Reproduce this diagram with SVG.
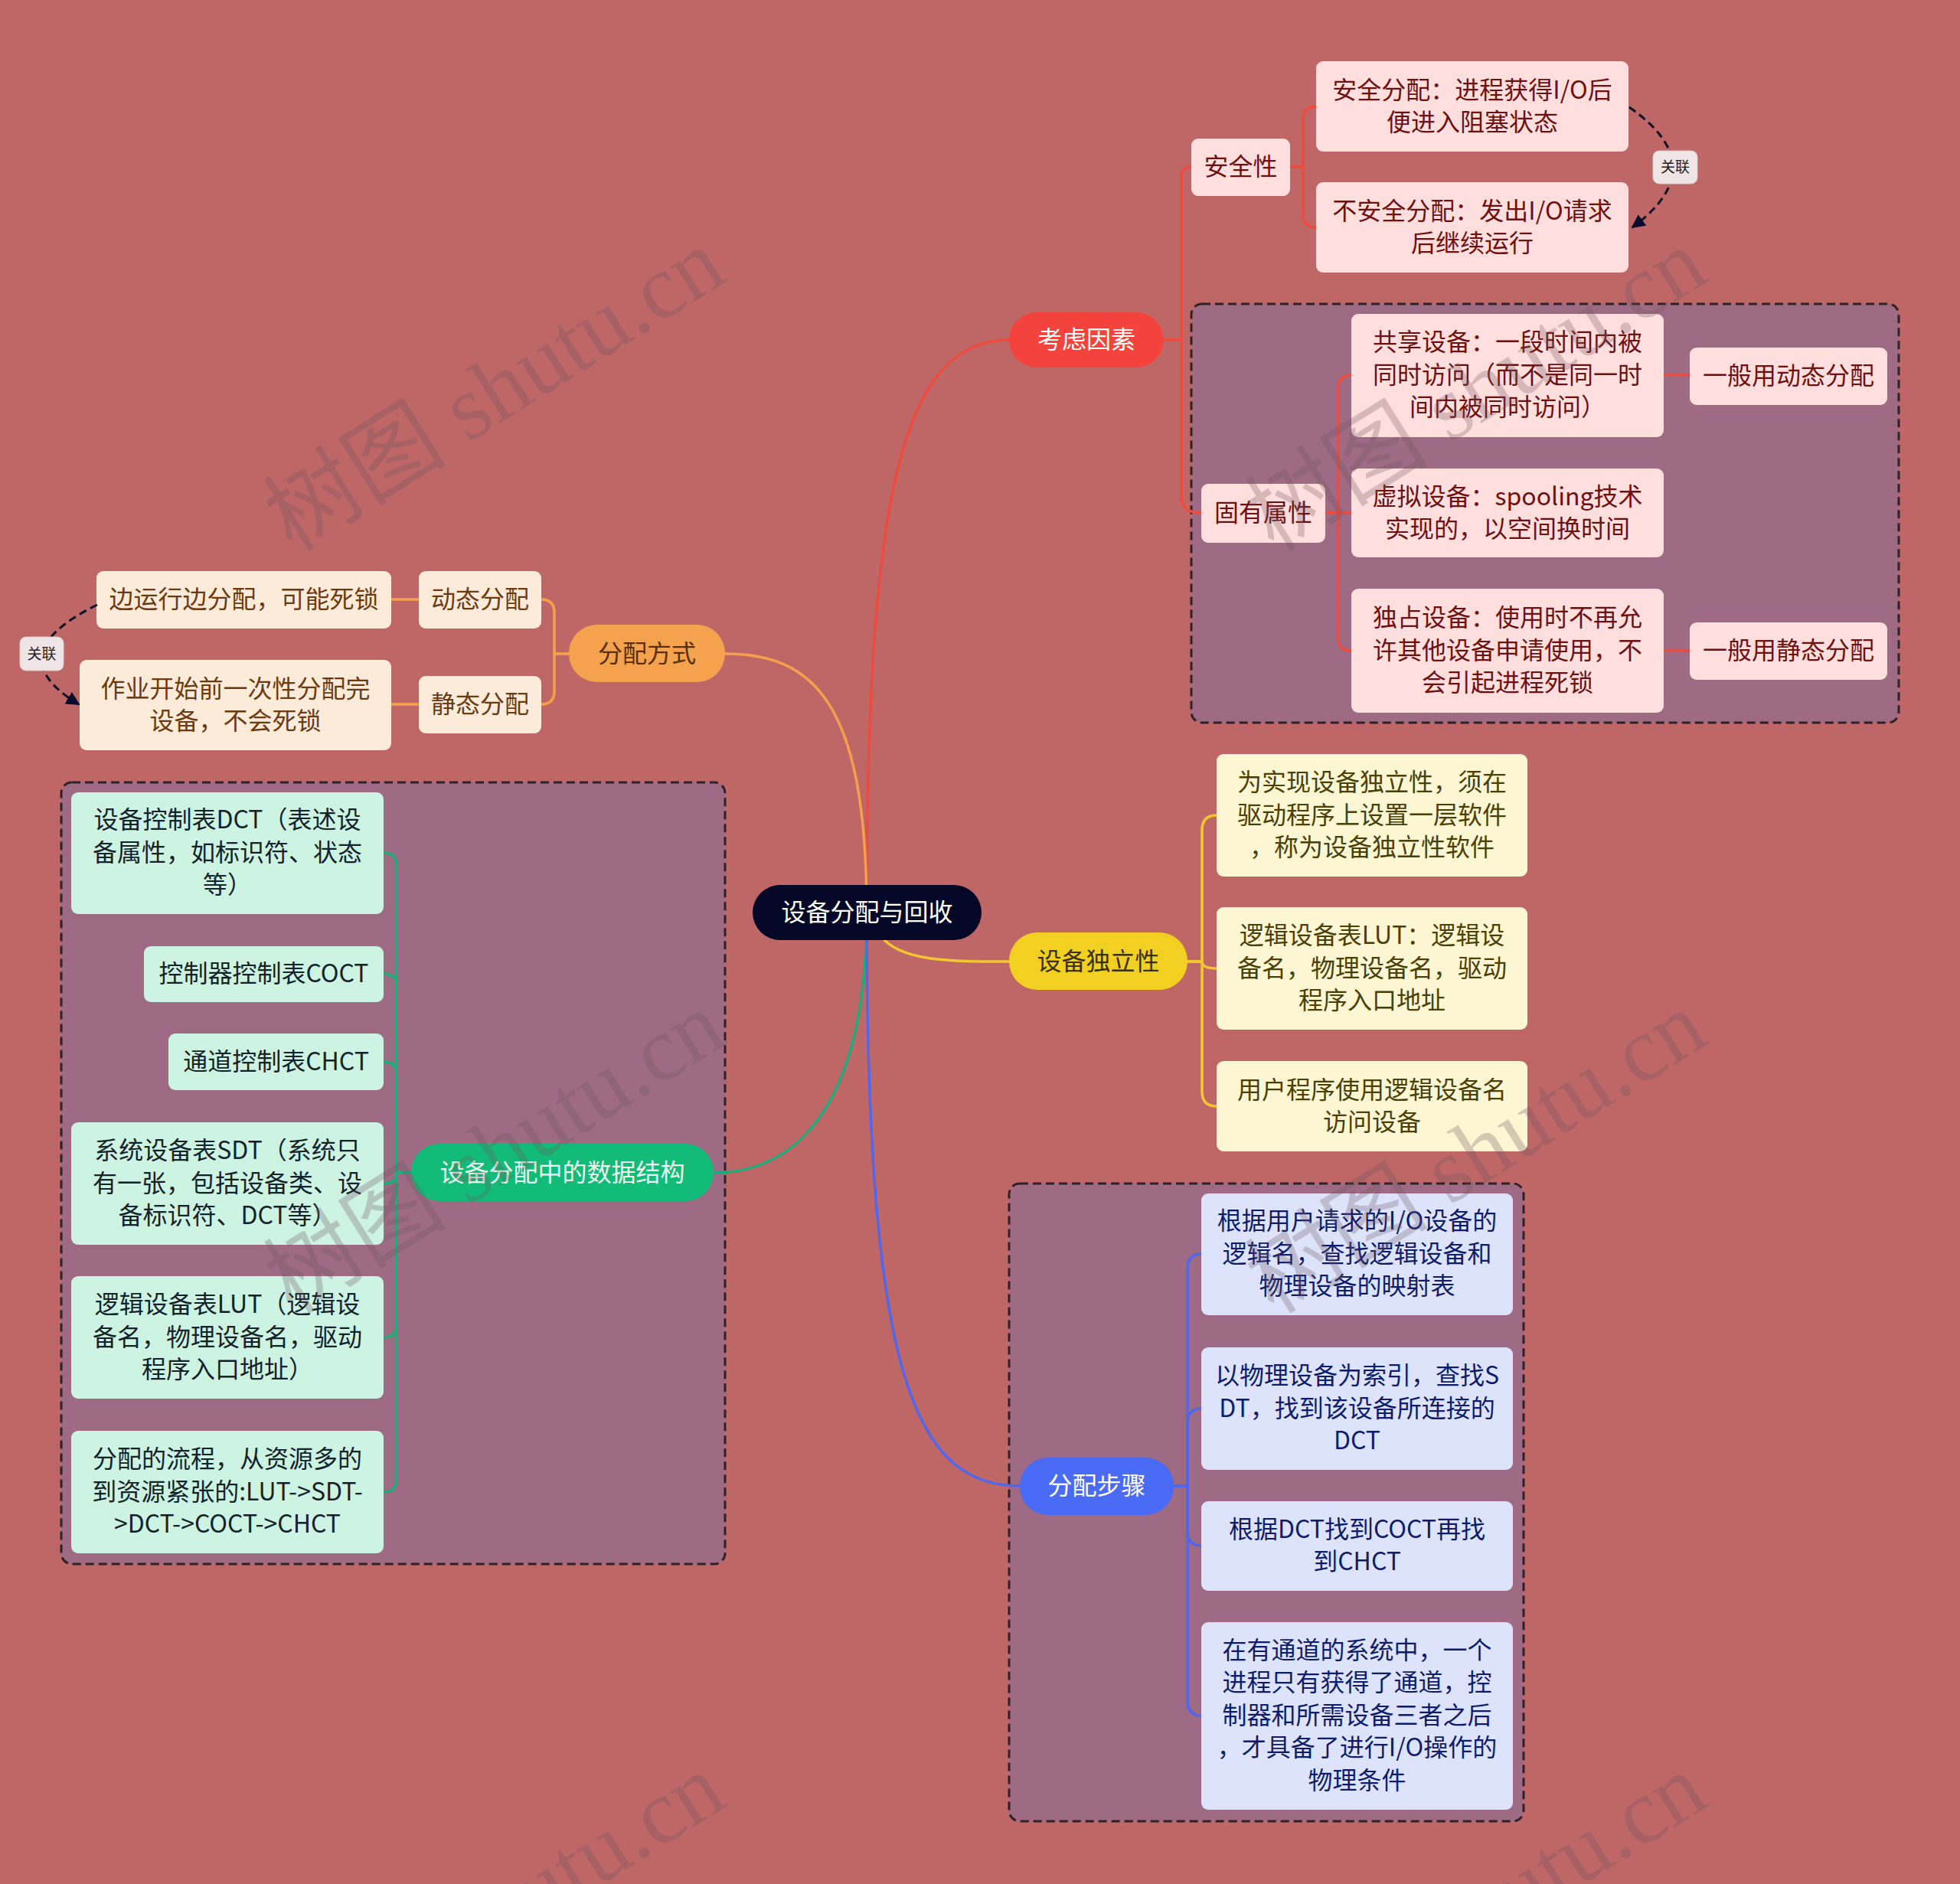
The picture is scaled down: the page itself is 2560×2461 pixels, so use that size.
<svg xmlns="http://www.w3.org/2000/svg" width="2560" height="2461" viewBox="0 0 2560 2461">
<defs>
<style>
.t{font-family:"Noto Sans CJK SC","Liberation Sans",sans-serif;font-size:32px;text-anchor:middle}
.grp{fill:#9E6A84;stroke:#2e2226;stroke-width:3;stroke-dasharray:11 6}
.cn{fill:none;stroke-width:3.5;stroke-linecap:round}
.red{stroke:#EE4A3E}.org{stroke:#F5A04C}.yel{stroke:#F2C730}.grn{stroke:#1BAE78}.blu{stroke:#4F66EE}
.pk{fill:#FFDEDE}.pkt{fill:#6E1010}
.cr{fill:#FDEBD9}.crt{fill:#6B3A10}
.ly{fill:#FDF6D3}.lyt{fill:#4A3F05}
.mn{fill:#CDF3E3}.mnt{fill:#14222A}
.lv{fill:#DCE3FB}.lvt{fill:#0F1C6B}
.rel{fill:none;stroke:#111128;stroke-width:3;stroke-dasharray:10 6}
.lbl{fill:#EFE4E6;stroke:#d9c9cc;stroke-width:1}
.lt{font-family:"Noto Sans CJK SC","Liberation Sans",sans-serif;font-size:19px;text-anchor:middle;fill:#222}
.wm{font-family:"Liberation Serif","Noto Sans CJK SC",serif;font-size:120px;fill:#6f5560;opacity:0.28}
</style>
<marker id="arr" viewBox="0 0 10 10" refX="9" refY="5" markerWidth="6" markerHeight="6" orient="auto"><path d="M0,0 L10,5 L0,10 z" fill="#0b0b2e"/></marker>
</defs>
<rect x="0" y="0" width="2560" height="2461" fill="#BE6766"/>

<g id="groups">
<rect class="grp" x="1556" y="397" width="924" height="547" rx="14"/>
<rect class="grp" x="80" y="1022" width="867" height="1021" rx="14"/>
<rect class="grp" x="1318" y="1546" width="672" height="833" rx="14"/>
</g>

<g id="connectors">
<path class="cn red" d="M1132,1192 C1132,653 1176,444 1318,444"/>
<path class="cn org" d="M1132,1192 C1132,915 1061,854 947,854"/>
<path class="cn grn" d="M1132,1192 C1132,1437 1045,1532 932,1532"/>
<path class="cn yel" d="M1150,1222 C1175,1256 1240,1256 1318,1256"/>
<path class="cn blu" d="M1132,1192 C1132,1790 1192,1941 1332,1941"/>

<path class="cn red" d="M1520,444 H1543 V232 Q1543,218 1556,218"/>
<path class="cn red" d="M1520,444 H1543 V648 Q1543,670 1569,670"/>
<path class="cn red" d="M1685,218 H1702 V156 Q1702,139 1719,139"/>
<path class="cn red" d="M1685,218 H1702 V280 Q1702,297 1719,297"/>
<path class="cn red" d="M1731,670 H1748 V507 Q1748,490 1765,490"/>
<path class="cn red" d="M1731,670 H1765"/>
<path class="cn red" d="M1731,670 H1748 V833 Q1748,850 1765,850"/>
<path class="cn red" d="M2173,490 H2207"/>
<path class="cn red" d="M2173,850 H2207"/>

<path class="cn org" d="M743,854 H724 V800 Q724,783 707,783"/>
<path class="cn org" d="M743,854 H724 V903 Q724,920 707,920"/>
<path class="cn org" d="M547,783 H511"/>
<path class="cn org" d="M547,920 H511"/>

<path class="cn yel" d="M1551,1256 H1570 V1084 Q1570,1065 1589,1065"/>
<path class="cn yel" d="M1551,1256 H1570 Q1570,1265 1589,1265"/>
<path class="cn yel" d="M1551,1256 H1570 V1426 Q1570,1445 1589,1445"/>

<path class="cn grn" d="M537,1532 H518 V1131 Q518,1114 501,1114"/>
<path class="cn grn" d="M537,1532 H518 V1289 Q518,1272 501,1272"/>
<path class="cn grn" d="M537,1532 H518 V1404 Q518,1387 501,1387"/>
<path class="cn grn" d="M537,1532 H518 Q518,1546 501,1546"/>
<path class="cn grn" d="M537,1532 H518 V1730 Q518,1747 501,1747"/>
<path class="cn grn" d="M537,1532 H518 V1932 Q518,1949 501,1949"/>

<path class="cn blu" d="M1533,1941 H1551 V1657 Q1551,1638 1569,1638"/>
<path class="cn blu" d="M1533,1941 H1551 V1859 Q1551,1840 1569,1840"/>
<path class="cn blu" d="M1533,1941 H1551 V2000 Q1551,2019 1569,2019"/>
<path class="cn blu" d="M1533,1941 H1551 V2222 Q1551,2241 1569,2241"/>
</g>

<g id="n-root"><rect x="983" y="1156" width="299" height="72" rx="36" fill="#050826"/><text class="t" x="1132.5" y="1203" fill="#ffffff">设备分配与回收</text></g>

<g id="n-kaolv"><rect x="1318" y="408" width="202" height="72" rx="36" fill="#F4433C"/><text class="t" x="1419" y="455" fill="#ffffff">考虑因素</text></g>
<g id="n-fangshi"><rect x="743" y="816" width="204" height="75" rx="37" fill="#F5A24E"/><text class="t" x="845" y="865" fill="#5A2E00">分配方式</text></g>
<g id="n-duli"><rect x="1318" y="1218" width="233" height="75" rx="37" fill="#F2D022"/><text class="t" x="1434.5" y="1267" fill="#3A3000">设备独立性</text></g>
<g id="n-shuju"><rect x="537" y="1494" width="395" height="75" rx="37" fill="#12BC78"/><text class="t" x="734.5" y="1543" fill="#EAF8F0">设备分配中的数据结构</text></g>
<g id="n-buzhou"><rect x="1332" y="1904" width="201" height="75" rx="37" fill="#4A6BF6"/><text class="t" x="1432.5" y="1952" fill="#ffffff">分配步骤</text></g>

<g id="n-anquanxing"><rect class="pk" x="1556" y="181" width="129" height="75" rx="9"/><text class="t pkt" x="1620.5" y="229">安全性</text></g>
<g id="n-anquan"><rect class="pk" x="1719" y="80" width="408" height="118" rx="9"/><text class="t pkt" x="1923" y="129">安全分配：进程获得I/O后</text><text class="t pkt" x="1923" y="171">便进入阻塞状态</text></g>
<g id="n-buanquan"><rect class="pk" x="1719" y="238" width="408" height="118" rx="9"/><text class="t pkt" x="1923" y="287">不安全分配：发出I/O请求</text><text class="t pkt" x="1923" y="329">后继续运行</text></g>
<g id="n-guyou"><rect class="pk" x="1569" y="632" width="162" height="77" rx="9"/><text class="t pkt" x="1650" y="681">固有属性</text></g>
<g id="n-gongxiang"><rect class="pk" x="1765" y="410" width="408" height="161" rx="9"/><text class="t pkt" x="1969" y="458">共享设备：一段时间内被</text><text class="t pkt" x="1969" y="501">同时访问（而不是同一时</text><text class="t pkt" x="1969" y="543">间内被同时访问）</text></g>
<g id="n-xuni"><rect class="pk" x="1765" y="612" width="408" height="116" rx="9"/><text class="t pkt" x="1969" y="660">虚拟设备：spooling技术</text><text class="t pkt" x="1969" y="702">实现的，以空间换时间</text></g>
<g id="n-duzhan"><rect class="pk" x="1765" y="769" width="408" height="162" rx="9"/><text class="t pkt" x="1969" y="818">独占设备：使用时不再允</text><text class="t pkt" x="1969" y="861">许其他设备申请使用，不</text><text class="t pkt" x="1969" y="903">会引起进程死锁</text></g>
<g id="n-yiban-dt"><rect class="pk" x="2207" y="454" width="258" height="75" rx="9"/><text class="t pkt" x="2336" y="502">一般用动态分配</text></g>
<g id="n-yiban-jt"><rect class="pk" x="2207" y="813" width="258" height="75" rx="9"/><text class="t pkt" x="2336" y="861">一般用静态分配</text></g>

<g id="n-dongtai"><rect class="cr" x="547" y="746" width="160" height="75" rx="9"/><text class="t crt" x="627" y="794">动态分配</text></g>
<g id="n-jingtai"><rect class="cr" x="547" y="883" width="160" height="75" rx="9"/><text class="t crt" x="627" y="931">静态分配</text></g>
<g id="n-bianyunxing"><rect class="cr" x="126" y="746" width="385" height="75" rx="9"/><text class="t crt" x="318.5" y="794">边运行边分配，可能死锁</text></g>
<g id="n-zuoye"><rect class="cr" x="104" y="862" width="407" height="118" rx="9"/><text class="t crt" x="307.5" y="911">作业开始前一次性分配完</text><text class="t crt" x="307.5" y="953">设备，不会死锁</text></g>

<g id="n-shixian"><rect class="ly" x="1589" y="985" width="406" height="160" rx="9"/><text class="t lyt" x="1792" y="1033">为实现设备独立性，须在</text><text class="t lyt" x="1792" y="1076">驱动程序上设置一层软件</text><text class="t lyt" x="1792" y="1118">，称为设备独立性软件</text></g>
<g id="n-lut1"><rect class="ly" x="1589" y="1185" width="406" height="160" rx="9"/><text class="t lyt" x="1792" y="1233">逻辑设备表LUT：逻辑设</text><text class="t lyt" x="1792" y="1276">备名，物理设备名，驱动</text><text class="t lyt" x="1792" y="1318">程序入口地址</text></g>
<g id="n-yonghu"><rect class="ly" x="1589" y="1386" width="406" height="118" rx="9"/><text class="t lyt" x="1792" y="1435">用户程序使用逻辑设备名</text><text class="t lyt" x="1792" y="1477">访问设备</text></g>

<g id="n-dct"><rect class="mn" x="93" y="1035" width="408" height="159" rx="9"/><text class="t mnt" x="297" y="1082">设备控制表DCT（表述设</text><text class="t mnt" x="297" y="1125">备属性，如标识符、状态</text><text class="t mnt" x="297" y="1167">等）</text></g>
<g id="n-coct"><rect class="mn" x="188" y="1236" width="313" height="73" rx="9"/><text class="t mnt" x="344.5" y="1283">控制器控制表COCT</text></g>
<g id="n-chct"><rect class="mn" x="220" y="1350" width="281" height="74" rx="9"/><text class="t mnt" x="360.5" y="1398">通道控制表CHCT</text></g>
<g id="n-sdt"><rect class="mn" x="93" y="1466" width="408" height="160" rx="9"/><text class="t mnt" x="297" y="1514">系统设备表SDT（系统只</text><text class="t mnt" x="297" y="1557">有一张，包括设备类、设</text><text class="t mnt" x="297" y="1599">备标识符、DCT等）</text></g>
<g id="n-lut2"><rect class="mn" x="93" y="1667" width="408" height="160" rx="9"/><text class="t mnt" x="297" y="1715">逻辑设备表LUT（逻辑设</text><text class="t mnt" x="297" y="1758">备名，物理设备名，驱动</text><text class="t mnt" x="297" y="1800">程序入口地址）</text></g>
<g id="n-liucheng"><rect class="mn" x="93" y="1869" width="408" height="160" rx="9"/><text class="t mnt" x="297" y="1917">分配的流程，从资源多的</text><text class="t mnt" x="297" y="1960">到资源紧张的:LUT-&gt;SDT-</text><text class="t mnt" x="297" y="2002">&gt;DCT-&gt;COCT-&gt;CHCT</text></g>

<g id="n-step1"><rect class="lv" x="1569" y="1559" width="407" height="159" rx="9"/><text class="t lvt" x="1772.5" y="1606">根据用户请求的I/O设备的</text><text class="t lvt" x="1772.5" y="1649">逻辑名，查找逻辑设备和</text><text class="t lvt" x="1772.5" y="1691">物理设备的映射表</text></g>
<g id="n-step2"><rect class="lv" x="1569" y="1760" width="407" height="160" rx="9"/><text class="t lvt" x="1772.5" y="1808">以物理设备为索引，查找S</text><text class="t lvt" x="1772.5" y="1851">DT，找到该设备所连接的</text><text class="t lvt" x="1772.5" y="1893">DCT</text></g>
<g id="n-step3"><rect class="lv" x="1569" y="1961" width="407" height="117" rx="9"/><text class="t lvt" x="1772.5" y="2009">根据DCT找到COCT再找</text><text class="t lvt" x="1772.5" y="2051">到CHCT</text></g>
<g id="n-step4"><rect class="lv" x="1569" y="2119" width="407" height="245" rx="9"/><text class="t lvt" x="1772.5" y="2167">在有通道的系统中，一个</text><text class="t lvt" x="1772.5" y="2209">进程只有获得了通道，控</text><text class="t lvt" x="1772.5" y="2252">制器和所需设备三者之后</text><text class="t lvt" x="1772.5" y="2294">，才具备了进行I/O操作的</text><text class="t lvt" x="1772.5" y="2337">物理条件</text></g>

<g id="relations">
<path class="rel" d="M2128,140 Q2240,218 2132,297" marker-end="url(#arr)"/>
<rect class="lbl" x="2159" y="197" width="58" height="43" rx="8"/>
<text class="lt" x="2188" y="225">关联</text>
<path class="rel" d="M127,790 Q-5,855 103,920" marker-end="url(#arr)"/>
<rect class="lbl" x="26" y="832" width="57" height="44" rx="8"/>
<text class="lt" x="54.5" y="861">关联</text>
</g>

<g id="watermark">
<text class="wm" transform="translate(382,722) rotate(-32)">树图 shutu.cn</text>
<text class="wm" transform="translate(1664,722) rotate(-32)">树图 shutu.cn</text>
<text class="wm" transform="translate(382,1718) rotate(-32)">树图 shutu.cn</text>
<text class="wm" transform="translate(1664,1718) rotate(-32)">树图 shutu.cn</text>
<text class="wm" transform="translate(382,2714) rotate(-32)">树图 shutu.cn</text>
<text class="wm" transform="translate(1664,2714) rotate(-32)">树图 shutu.cn</text>
</g>
</svg>
